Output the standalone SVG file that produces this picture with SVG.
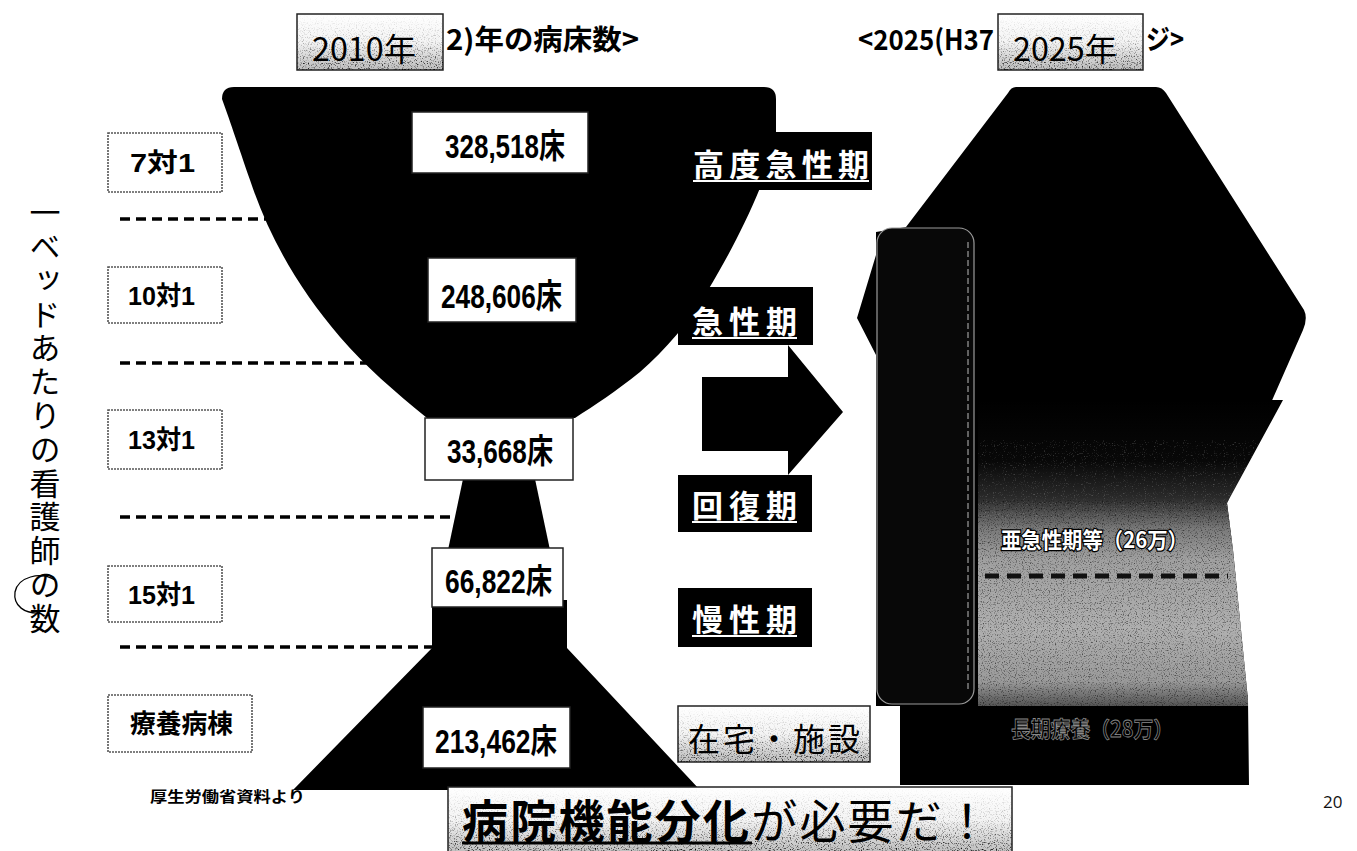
<svg xmlns="http://www.w3.org/2000/svg" width="1357" height="851" viewBox="0 0 1357 851">
<style>
.jp{font-family:"Noto Sans CJK JP","Noto Sans CJK SC",sans-serif}
.num{font-family:"Liberation Sans","Noto Sans CJK JP",sans-serif;font-weight:700;font-size:34px;fill:#000}
.lbl{font-family:"Liberation Sans","Noto Sans CJK JP",sans-serif;font-weight:700;font-size:26px;fill:#000}
.wbox{fill:#fff;stroke:#222;stroke-width:1.5}
.lbox{fill:#fff;stroke:#555;stroke-width:1.6;stroke-dasharray:2 1}
.phase{font-family:"Noto Sans CJK JP",sans-serif;font-weight:700;font-size:31px;fill:#fff}
.uline{stroke:#fff;stroke-width:2}
.dash{stroke:#000;stroke-width:3.5;stroke-dasharray:10 6;fill:none}
.gbox{fill:url(#gboxGrad);stroke:#222;stroke-width:1.5}
</style>
<defs>
<linearGradient id="gboxGrad" x1="0" y1="0" x2="0" y2="1">
<stop offset="0" stop-color="#fff"/><stop offset="0.5" stop-color="#f4f4f4"/><stop offset="1" stop-color="#bdbdbd"/>
</linearGradient>
<linearGradient id="fadeGrad" x1="0" y1="0" x2="0" y2="1">
<stop offset="0" stop-color="#000" stop-opacity="0"/><stop offset="0.5" stop-color="#000" stop-opacity="0.3"/><stop offset="1" stop-color="#000" stop-opacity="1"/>
</linearGradient>
<linearGradient id="colGrad" x1="0" y1="400" x2="0" y2="706" gradientUnits="userSpaceOnUse">
<stop offset="0" stop-color="#000"/><stop offset="0.2" stop-color="#080808"/><stop offset="0.32" stop-color="#2a2a2a"/><stop offset="0.42" stop-color="#7a7a7a"/><stop offset="0.52" stop-color="#a0a0a0"/><stop offset="0.75" stop-color="#b0b0b0"/><stop offset="0.92" stop-color="#9a9a9a"/><stop offset="1" stop-color="#555"/>
</linearGradient>
<filter id="grain" x="0" y="0" width="1" height="1">
<feTurbulence type="fractalNoise" baseFrequency="0.85" numOctaves="1" seed="7" result="t"/>
<feColorMatrix in="t" type="matrix" values="0 0 0 0 0  0 0 0 0 0  0 0 0 0 0  4 0 0 0 -2.1" result="n"/>
<feComposite in="n" in2="SourceAlpha" operator="in"/>
</filter>
<filter id="grainW" x="0" y="0" width="1" height="1">
<feTurbulence type="fractalNoise" baseFrequency="0.9" numOctaves="1" seed="3" result="t"/>
<feColorMatrix in="t" type="matrix" values="0 0 0 0 1  0 0 0 0 1  0 0 0 0 1  4 0 0 0 -2.4" result="n"/>
<feComposite in="n" in2="SourceAlpha" operator="in"/>
</filter>
<clipPath id="colClip"><path d="M978,400 L1283,400 L1227,503 L1233,550 L1248,700 L1248,706 L978,706 Z"/></clipPath>
</defs>

<rect width="1357" height="851" fill="#fff"/>

<g id="title-2010">
<rect class="gbox" x="297" y="14" width="146" height="56"/>
<rect x="297" y="14" width="146" height="56" fill="url(#fadeGrad)" filter="url(#grain)"/>
<text class="jp" x="312" y="61" font-size="32" fill="#000" textLength="104" lengthAdjust="spacingAndGlyphs">2010年</text>
<text class="jp" x="446" y="50" font-size="28" font-weight="700" fill="#000" textLength="193" lengthAdjust="spacingAndGlyphs">2)年の病床数&gt;</text>
</g>

<g id="title-2025">
<text class="jp" x="858" y="50" font-size="28" font-weight="700" fill="#000" textLength="136" lengthAdjust="spacingAndGlyphs">&lt;2025(H37</text>
<rect class="gbox" x="998" y="14" width="145" height="56"/>
<rect x="998" y="14" width="145" height="56" fill="url(#fadeGrad)" filter="url(#grain)"/>
<text class="jp" x="1013" y="61" font-size="32" fill="#000" textLength="104" lengthAdjust="spacingAndGlyphs">2025年</text>
<text class="jp" x="1146" y="50" font-size="28" font-weight="700" fill="#000" textLength="38" lengthAdjust="spacingAndGlyphs">ジ&gt;</text>
</g>

<g id="axis-label">
<text class="jp" x="45" y="197" font-size="31" fill="#000" letter-spacing="2.8" style="writing-mode:vertical-rl">一ベッドあたりの看護師の数</text>
<path d="M55,580 C40,571 18,577 15,592 C13,606 25,614 40,613" fill="none" stroke="#000" stroke-width="1.3"/>
</g>

<g id="connectors">
<line class="dash" x1="120" y1="219" x2="275" y2="219"/>
<line class="dash" x1="120" y1="363" x2="370" y2="363"/>
<line class="dash" x1="120" y1="517" x2="462" y2="517"/>
<line class="dash" x1="120" y1="647" x2="440" y2="647"/>
<path id="arrow" d="M702,377 L788,377 L788,345 L843,412 L788,475 L788,451 L702,451 Z" fill="#000"/>
</g>

<g id="cup-2010">
<path d="M234,87 L764,87 Q776,87 776,99 L776,140 L760,188 C745,225 725,262 708,290 C690,322 665,350 640,372 C615,392 595,405 575,418 L427,418 C395,392 365,366 340,337 C300,290 270,240 250,180 C238,145 228,115 222,99 Q222,87 234,87 Z" fill="#000"/>
<path d="M463,479 L535,479 L550,550 L448,550 Z" fill="#000"/>
<path d="M432,600 L567,600 L567,648 L700,790 L293,790 L432,648 Z" fill="#000"/>
</g>

<g id="box-7">
<rect class="lbox" x="108" y="133" width="114" height="59"/>
<text class="lbl" x="130" y="172" textLength="65" lengthAdjust="spacingAndGlyphs">7対1</text>
</g>
<g id="box-10">
<rect class="lbox" x="108" y="267" width="114" height="56"/>
<text class="lbl" x="128" y="305" textLength="67" lengthAdjust="spacingAndGlyphs">10対1</text>
</g>
<g id="box-13">
<rect class="lbox" x="108" y="410" width="114" height="59"/>
<text class="lbl" x="128" y="449" textLength="67" lengthAdjust="spacingAndGlyphs">13対1</text>
</g>
<g id="box-15">
<rect class="lbox" x="108" y="566" width="114" height="56"/>
<text class="lbl" x="128" y="604" textLength="67" lengthAdjust="spacingAndGlyphs">15対1</text>
</g>
<g id="box-ryoyo">
<rect class="lbox" x="108" y="695" width="144" height="57"/>
<text class="lbl" x="130" y="733" textLength="103" lengthAdjust="spacingAndGlyphs">療養病棟</text>
</g>

<g id="beds-328518">
<rect class="wbox" x="412" y="112" width="176" height="61"/>
<text class="num" x="445" y="158" textLength="120" lengthAdjust="spacingAndGlyphs">328,518床</text>
</g>
<g id="beds-248606">
<rect class="wbox" x="428" y="258" width="148" height="64"/>
<text class="num" x="441" y="308" textLength="121" lengthAdjust="spacingAndGlyphs">248,606床</text>
</g>
<g id="beds-33668">
<rect class="wbox" x="425" y="418" width="148" height="62"/>
<text class="num" x="447" y="463" textLength="106" lengthAdjust="spacingAndGlyphs">33,668床</text>
</g>
<g id="beds-66822">
<rect class="wbox" x="432" y="548" width="131" height="59"/>
<text class="num" x="445" y="593" textLength="107" lengthAdjust="spacingAndGlyphs">66,822床</text>
</g>
<g id="beds-213462">
<rect class="wbox" x="423" y="707" width="147" height="61"/>
<text class="num" x="435" y="753" textLength="122" lengthAdjust="spacingAndGlyphs">213,462床</text>
</g>

<g id="phase-kodo">
<rect x="690" y="132" width="182" height="58" fill="#000"/>
<text class="phase" x="693" y="176" textLength="176" lengthAdjust="spacing">高度急性期</text>
<line class="uline" x1="693" y1="181" x2="869" y2="181"/>
</g>
<g id="phase-kyusei">
<rect x="678" y="287" width="135" height="58" fill="#000"/>
<text class="phase" x="692" y="333" textLength="105" lengthAdjust="spacing">急性期</text>
<line class="uline" x1="692" y1="338" x2="797" y2="338"/>
</g>
<g id="phase-kaifuku">
<rect x="678" y="475" width="134" height="57" fill="#000"/>
<text class="phase" x="692" y="517" textLength="105" lengthAdjust="spacing">回復期</text>
<line class="uline" x1="692" y1="522" x2="797" y2="522"/>
</g>
<g id="phase-mansei">
<rect x="678" y="588" width="134" height="59" fill="#000"/>
<text class="phase" x="692" y="631" textLength="105" lengthAdjust="spacing">慢性期</text>
<line class="uline" x1="692" y1="636" x2="797" y2="636"/>
</g>
<g id="phase-zaitaku">
<rect class="gbox" x="678" y="706" width="192" height="56"/>
<rect x="678" y="706" width="192" height="56" fill="url(#fadeGrad)" filter="url(#grain)"/>
<text class="jp" x="688" y="751" font-size="32" fill="#000" textLength="172" lengthAdjust="spacing">在宅・施設</text>
</g>

<g id="shape-2025">
<path d="M1016,87 L1156,87 Q1162,87 1166,93 L1304,310 Q1308,318 1303,330 L1227,503 L1233,550 L1248,700 L1249,785 L900,785 L900,706 L876,706 L876,355 L857,318 L876,255 L876,232 L906,227 L1008,93 Q1011,87 1016,87 Z" fill="#000"/>
<g clip-path="url(#colClip)">
<rect x="978" y="400" width="310" height="306" fill="url(#colGrad)"/>
<rect x="978" y="500" width="310" height="206" fill="#000" opacity="0.55" filter="url(#grain)"/>
<rect x="978" y="440" width="310" height="80" fill="#000" opacity="0.25" filter="url(#grainW)"/>
</g>
<line x1="985" y1="576" x2="1228" y2="576" stroke="#111" stroke-width="5" stroke-dasharray="14 8"/>
<rect x="877" y="228" width="97" height="476" rx="15" fill="#080808" stroke="#9a9a9a" stroke-width="1.2"/>
<line x1="968" y1="242" x2="968" y2="690" stroke="#bbb" stroke-width="1" stroke-dasharray="6 3"/>
<text class="jp" x="1001" y="548" font-size="22" font-weight="700" fill="#fff" stroke="#000" stroke-width="2.5" paint-order="stroke" textLength="187" lengthAdjust="spacingAndGlyphs">亜急性期等（26万）</text>
<text class="jp" x="1011" y="737" font-size="22" font-weight="700" fill="#000" stroke="#8a8a8a" stroke-width="0.8" textLength="162" lengthAdjust="spacingAndGlyphs">長期療養（28万）</text>
</g>

<g id="source">
<text class="jp" x="150" y="802" font-size="15" font-weight="700" fill="#000" textLength="155" lengthAdjust="spacingAndGlyphs">厚生労働省資料より</text>
</g>

<g id="conclusion">
<rect class="gbox" x="448" y="787" width="564" height="66"/>
<rect x="448" y="787" width="564" height="66" fill="url(#fadeGrad)" filter="url(#grain)"/>
<text class="jp" x="462" y="838" font-size="46" fill="#000" textLength="528" lengthAdjust="spacing"><tspan font-weight="700">病院機能分化</tspan>が必要だ！</text>
<line x1="462" y1="843" x2="752" y2="843" stroke="#000" stroke-width="3"/>
</g>

<g id="page-number">
<text x="1323" y="808" font-family="Open Sans, Liberation Sans, sans-serif" font-size="17" fill="#111">20</text>
</g>
</svg>
